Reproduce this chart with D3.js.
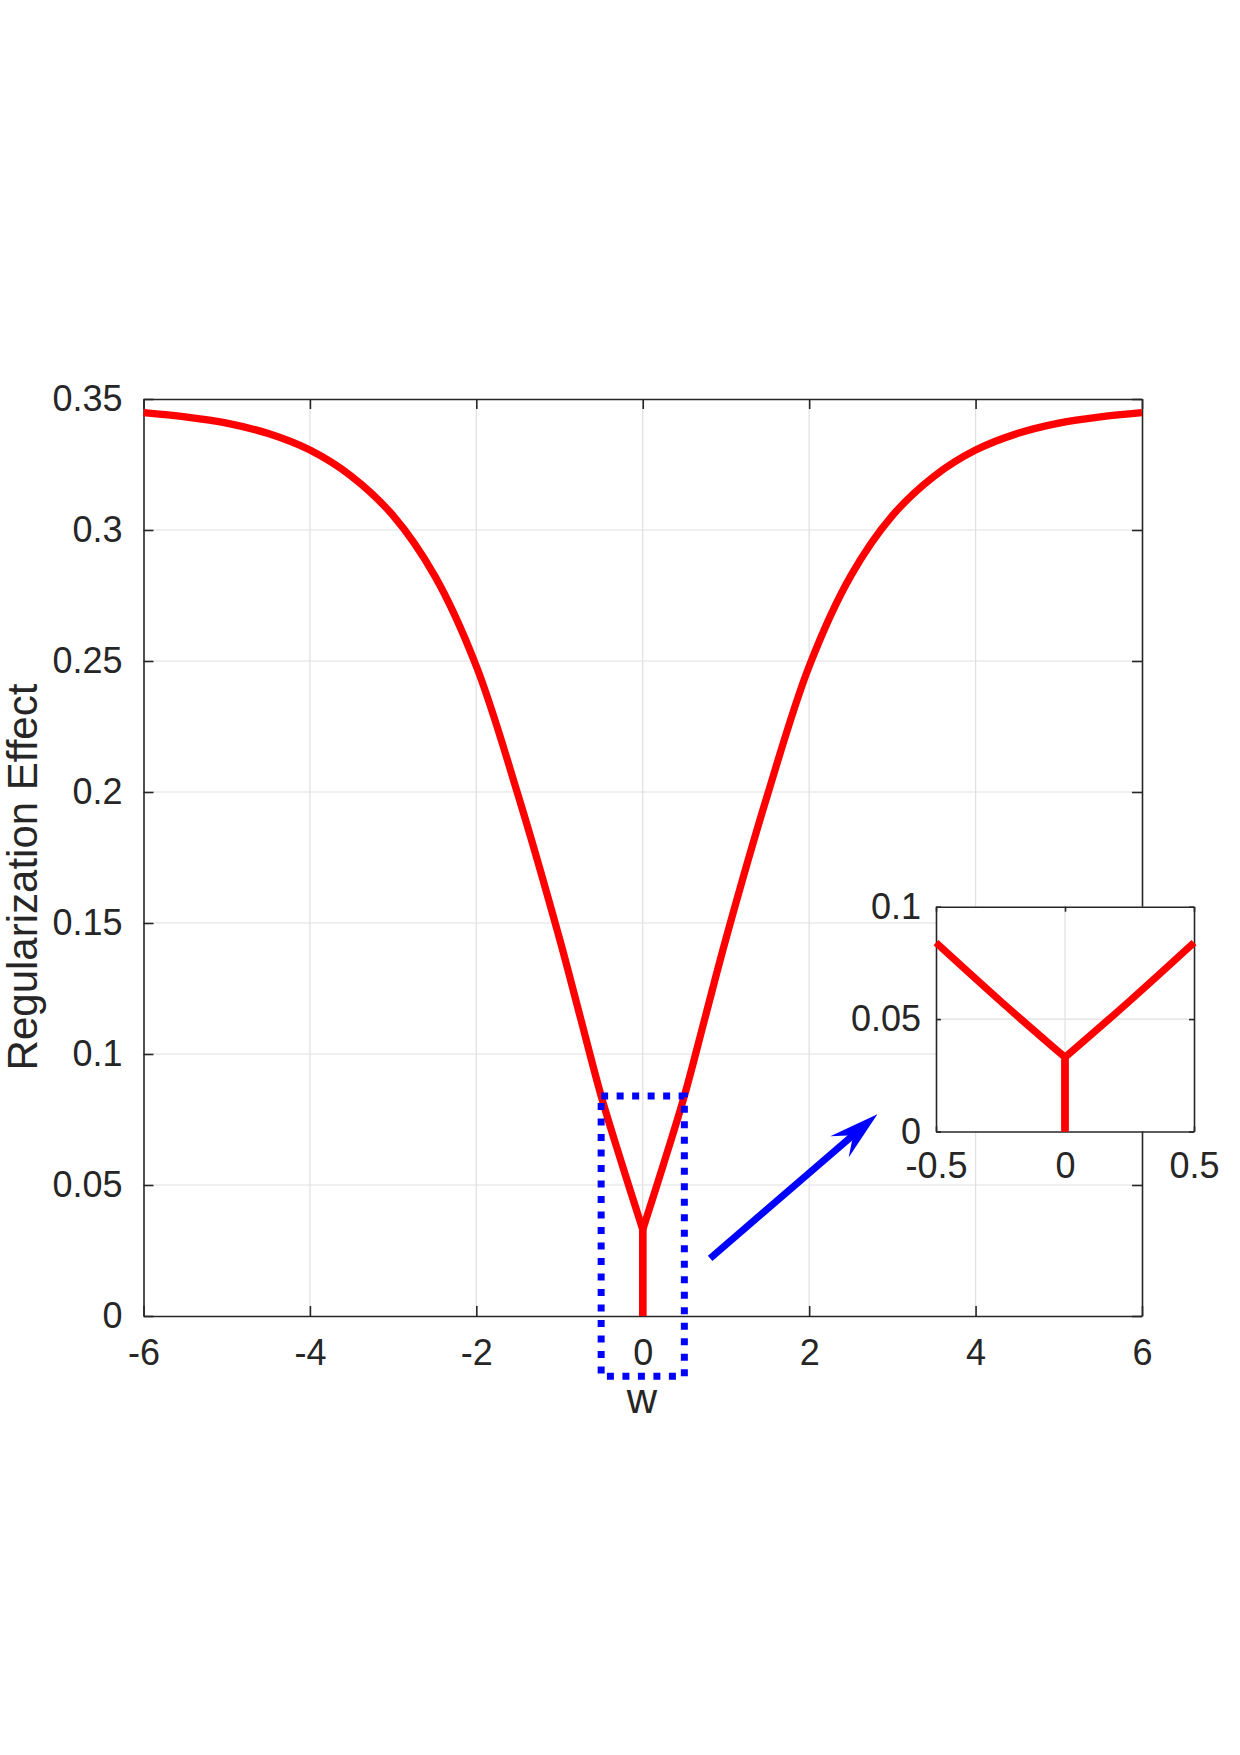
<!DOCTYPE html>
<html>
<head>
<meta charset="utf-8">
<script src="https://cdn.jsdelivr.net/npm/d3@7"></script>
<style>
body { margin: 0; background: #fff; }
text { font-family: "Liberation Sans", Arial, sans-serif; fill: #262626; }
</style>
</head>
<body>
<div id="chart"></div>
<script>
// values (curve is symmetric around w = 0)
var wVals   = [-6, -5.5, -5, -4.5, -4, -3.5, -3, -2.5, -2, -1.5, -1, -0.75, -0.5, -0.25, 0,
               0.25, 0.5, 0.75, 1, 1.5, 2, 2.5, 3, 3.5, 4, 4.5, 5, 5.5, 6];
var effVals = [0.3448, 0.3432, 0.3408, 0.3368, 0.3305, 0.3205, 0.3055, 0.2825, 0.248, 0.199, 0.144, 0.114, 0.084, 0.058, 0.033,
               0.058, 0.084, 0.114, 0.144, 0.199, 0.248, 0.2825, 0.3055, 0.3205, 0.3305, 0.3368, 0.3408, 0.3432, 0.3448];
var stemEff = [0, 0.033];

var xTicks = [-6, -4, -2, 0, 2, 4, 6];
var yTicks = [0, 0.05, 0.1, 0.15, 0.2, 0.25, 0.3, 0.35];
var insetXTicks = [-0.5, 0, 0.5];
var insetYTicks = [0, 0.05, 0.1];

// dotted zoom box and arrow, in main data units
var boxW = [-0.5, 0.5], boxEff = [-0.023, 0.084];
var arrowW = [0.81, 2.82], arrowEff = [0.022, 0.077];

var svg = d3.select("#chart").append("svg")
  .attr("width", 1240).attr("height", 1755);

var axisCol = "#262626", gridCol = "#dfdfdf";

function panel(x, y, xt, yt, opt) {
  var g = svg.append("g");
  g.append("rect")
    .attr("x", x.range()[0]).attr("y", y.range()[1])
    .attr("width", x.range()[1] - x.range()[0])
    .attr("height", y.range()[0] - y.range()[1])
    .attr("fill", "#fff");
  // grid
  g.selectAll(".gx").data(xt.slice(1, -1)).enter().append("line")
    .attr("x1", d => x(d)).attr("x2", d => x(d))
    .attr("y1", y.range()[0]).attr("y2", y.range()[1])
    .attr("stroke", gridCol).attr("stroke-width", 1.2);
  g.selectAll(".gy").data(yt.slice(1, -1)).enter().append("line")
    .attr("y1", d => y(d)).attr("y2", d => y(d))
    .attr("x1", x.range()[0]).attr("x2", x.range()[1])
    .attr("stroke", gridCol).attr("stroke-width", 1.2);

  var b = d3.axisBottom(x).tickValues(xt).tickSize(-opt.tick).tickSizeOuter(0)
    .tickPadding(opt.padX).tickFormat(d => String(d));
  var l = d3.axisLeft(y).tickValues(yt).tickSize(-opt.tick).tickSizeOuter(0)
    .tickPadding(opt.padY).tickFormat(d => String(d));
  var t = d3.axisTop(x).tickValues(xt).tickSize(-opt.tick).tickSizeOuter(0).tickFormat("");
  var r = d3.axisRight(y).tickValues(yt).tickSize(-opt.tick).tickSizeOuter(0).tickFormat("");

  var gb = g.append("g").attr("transform", "translate(0," + y.range()[0] + ")").call(b);
  var gl = g.append("g").attr("transform", "translate(" + x.range()[0] + ",0)").call(l);
  var gt = g.append("g").attr("transform", "translate(0," + y.range()[1] + ")").call(t);
  var gr = g.append("g").attr("transform", "translate(" + x.range()[1] + ",0)").call(r);
  [gb, gl, gt, gr].forEach(function(a) {
    a.selectAll("path, line").attr("stroke", axisCol).attr("stroke-width", 1.6);
    a.selectAll("text").attr("font-size", "36px").attr("fill", axisCol)
      .style("font-family", '"Liberation Sans", Arial, sans-serif');
  });
  return g;
}

function curve(g, x, y, keep) {
  var line = d3.line().x(d => x(d[0])).y(d => y(d[1])).curve(d3.curveCatmullRom.alpha(0.5));
  var pts = wVals.map((w, i) => [w, effVals[i]]).filter(d => keep(d[0]));
  var left = pts.filter(d => d[0] <= 0), right = pts.filter(d => d[0] >= 0);
  var p1 = line(left) + "L" + x(0) + "," + y(stemEff[0]);
  var p2 = "M" + x(0) + "," + y(stemEff[0]) + "L" + x(0) + "," + y(stemEff[1]) + line(right).replace(/^M/, "L");
  [p1, p2].forEach(function(p) {
    g.append("path").attr("d", p)
      .attr("fill", "none").attr("stroke", "#ff0000")
      .attr("stroke-width", 7.3).attr("stroke-linejoin", "miter").attr("stroke-miterlimit", 10);
  });
}

// main axes
var x = d3.scaleLinear().domain([-6, 6]).range([143.5, 1142]);
var y = d3.scaleLinear().domain([0, 0.35]).range([1316, 399]);
var main = panel(x, y, xTicks, yTicks, {tick: 10, padX: 23, padY: 21});
curve(main, x, y, w => true);

main.append("text")
  .attr("x", 642).attr("y", 1413)
  .attr("text-anchor", "middle").attr("font-size", "42px")
  .text("w");
main.append("text")
  .attr("transform", "translate(37,877) rotate(-90)")
  .attr("text-anchor", "middle").attr("font-size", "42px")
  .text("Regularization Effect");

// dotted zoom region
main.append("rect")
  .attr("x", x(boxW[0])).attr("y", y(boxEff[1]))
  .attr("width", x(boxW[1]) - x(boxW[0]))
  .attr("height", y(boxEff[0]) - y(boxEff[1]))
  .attr("fill", "none").attr("stroke", "#0000ff")
  .attr("stroke-width", 7).attr("stroke-dasharray", "7 8.5");

// arrow
var ax0 = x(arrowW[0]), ay0 = y(arrowEff[0]), ax1 = x(arrowW[1]), ay1 = y(arrowEff[1]);
var ang = Math.atan2(ay1 - ay0, ax1 - ax0);
var ux = Math.cos(ang), uy = Math.sin(ang), nx = -uy, ny = ux;
var headLen = 50, headW = 14, notch = 32;
main.append("line")
  .attr("x1", ax0).attr("y1", ay0)
  .attr("x2", ax1 - ux * notch).attr("y2", ay1 - uy * notch)
  .attr("stroke", "#0000ff").attr("stroke-width", 7);
main.append("path")
  .attr("d", "M" + ax1 + "," + ay1 +
    "L" + (ax1 - ux * headLen + nx * headW) + "," + (ay1 - uy * headLen + ny * headW) +
    "L" + (ax1 - ux * notch) + "," + (ay1 - uy * notch) +
    "L" + (ax1 - ux * headLen - nx * headW) + "," + (ay1 - uy * headLen - ny * headW) + "Z")
  .attr("fill", "#0000ff");

// inset
var xi = d3.scaleLinear().domain([-0.5, 0.5]).range([936, 1194]);
var yi = d3.scaleLinear().domain([0, 0.1]).range([1131.5, 906.7]);
var inset = panel(xi, yi, insetXTicks, insetYTicks, {tick: 5, padX: 21, padY: 15});
curve(inset, xi, yi, w => Math.abs(w) <= 0.5);
</script>
</body>
</html>
